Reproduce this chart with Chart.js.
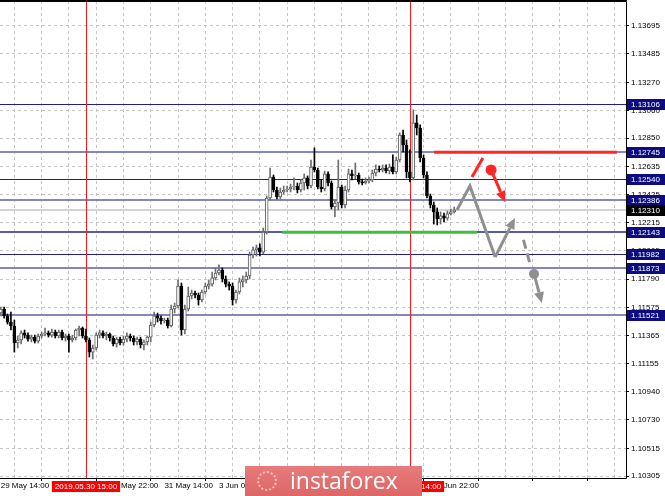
<!DOCTYPE html>
<html>
<head>
<meta charset="utf-8">
<script src="https://cdn.jsdelivr.net/npm/chart.js@4.4.1/dist/chart.umd.min.js"></script>
<style>
  html, body { margin: 0; padding: 0; background: #fff; }
  #wrap { position: relative; width: 665px; height: 496px; overflow: hidden; }
  #wm {
    position: absolute; left: 245px; top: 466px; width: 177px; height: 30px;
    background: linear-gradient(#e77b7b, #dd6666);
    color: #fff; font-family: 'Open Sans', sans-serif; font-size: 23px; line-height: 28px;
  }
  #wm span { position: absolute; left: 45px; top: 0; }
  #wm i { position: absolute; left: 12px; top: 5px; width: 20px; height: 20px; border-radius: 50%;
    border: 2px dotted #f6c9c9; box-sizing: border-box; }
</style>
</head>
<body>
<div id="wrap">
  <canvas id="chart" width="665" height="496"></canvas>
  <div id="wm"><i></i><span>instaforex</span></div>
</div>
<script>
// EURUSD H1, one candle per hour from 29 May 14:00
const opens = [
  1.11534,1.11564,1.11512,1.11466,1.11436,1.11308,1.11331,1.11384,1.11368,1.11338,
  1.11353,1.11323,1.11361,1.11376,1.11384,1.11368,1.11391,1.11361,1.11391,1.11346,
  1.11361,1.11331,1.11346,1.11406,1.11421,1.11361,1.11331,1.11240,1.11271,1.11368,
  1.11384,1.11361,1.11376,1.11346,1.11301,1.11338,1.11308,1.11338,1.11361,1.11346,
  1.11316,1.11338,1.11293,1.11316,1.11353,1.11444,1.11512,1.11496,1.11474,1.11481,
  1.11436,1.11564,1.11587,1.11737,1.11406,1.11564,1.11662,1.11685,1.11670,1.11632,
  1.11692,1.11737,1.11752,1.11798,1.11835,1.11858,1.11790,1.11752,1.11737,1.11632,
  1.11692,1.11768,1.11783,1.11813,1.11971,1.12009,1.12024,1.11993,1.12144,1.12400,
  1.12558,1.12460,1.12408,1.12445,1.12460,1.12468,1.12483,1.12490,1.12460,1.12513,
  1.12551,1.12490,1.12633,1.12611,1.12483,1.12468,1.12581,1.12513,1.12332,1.12362,
  1.12483,1.12347,1.12460,1.12581,1.12566,1.12573,1.12521,1.12513,1.12528,1.12536,
  1.12588,1.12618,1.12611,1.12626,1.12603,1.12633,1.12596,1.12686,1.12874,1.12799,
  1.12596,1.12551,1.12965,1.12927,1.12701,1.12573,1.12415,1.12347,1.12295,1.12242,
  1.12265,1.12249,1.12280,1.12295
];
const highs = [
  1.11579,1.11579,1.11527,1.11542,1.11481,1.11361,1.11399,1.11406,1.11384,1.11368,
  1.11368,1.11376,1.11391,1.11421,1.11399,1.11414,1.11406,1.11406,1.11406,1.11376,
  1.11376,1.11368,1.11414,1.11436,1.11429,1.11414,1.11346,1.11293,1.11384,1.11406,
  1.11399,1.11391,1.11384,1.11361,1.11353,1.11353,1.11361,1.11384,1.11376,1.11361,
  1.11353,1.11353,1.11331,1.11361,1.11466,1.11542,1.11534,1.11512,1.11496,1.11496,
  1.11594,1.11609,1.11783,1.11760,1.11594,1.11730,1.11707,1.11700,1.11685,1.11707,
  1.11760,1.11783,1.11843,1.11873,1.11896,1.11873,1.11813,1.11768,1.11760,1.11707,
  1.11798,1.11813,1.11843,1.11993,1.12031,1.12046,1.12054,1.12174,1.12415,1.12626,
  1.12573,1.12483,1.12475,1.12490,1.12490,1.12505,1.12551,1.12513,1.12536,1.12581,
  1.12566,1.12686,1.12777,1.12626,1.12536,1.12603,1.12596,1.12528,1.12385,1.12686,
  1.12498,1.12490,1.12618,1.12611,1.12664,1.12588,1.12543,1.12551,1.12558,1.12611,
  1.12649,1.12641,1.12649,1.12649,1.12656,1.12724,1.12709,1.12890,1.12912,1.12837,
  1.12762,1.13063,1.13025,1.12950,1.12724,1.12596,1.12430,1.12370,1.12325,1.12295,
  1.12287,1.12302,1.12317,1.12332
];
const lows = [
  1.11512,1.11496,1.11451,1.11406,1.11240,1.11271,1.11301,1.11346,1.11323,1.11316,
  1.11308,1.11308,1.11346,1.11361,1.11353,1.11353,1.11346,1.11346,1.11331,1.11323,
  1.11240,1.11316,1.11331,1.11361,1.11346,1.11316,1.11203,1.11188,1.11256,1.11346,
  1.11346,1.11331,1.11323,1.11286,1.11278,1.11293,1.11293,1.11316,1.11323,1.11293,
  1.11293,1.11271,1.11256,1.11293,1.11316,1.11429,1.11466,1.11451,1.11459,1.11421,
  1.11429,1.11534,1.11572,1.11368,1.11376,1.11549,1.11640,1.11647,1.11594,1.11617,
  1.11677,1.11715,1.11737,1.11783,1.11820,1.11768,1.11730,1.11707,1.11594,1.11609,
  1.11677,1.11730,1.11760,1.11790,1.11948,1.11963,1.11963,1.11978,1.12129,1.12385,
  1.12445,1.12393,1.12393,1.12430,1.12445,1.12445,1.12460,1.12438,1.12445,1.12460,
  1.12468,1.12475,1.12596,1.12468,1.12445,1.12453,1.12490,1.12317,1.12257,1.12310,
  1.12325,1.12325,1.12445,1.12536,1.12543,1.12505,1.12498,1.12505,1.12513,1.12521,
  1.12566,1.12596,1.12596,1.12588,1.12581,1.12581,1.12581,1.12671,1.12746,1.12551,
  1.12521,1.12536,1.12874,1.12671,1.12551,1.12400,1.12325,1.12204,1.12197,1.12204,
  1.12219,1.12234,1.12272,1.12287
];
const closes = [
  1.11564,1.11512,1.11466,1.11436,1.11308,1.11331,1.11384,1.11368,1.11338,1.11353,
  1.11323,1.11361,1.11376,1.11384,1.11368,1.11391,1.11361,1.11391,1.11346,1.11361,
  1.11331,1.11346,1.11406,1.11421,1.11361,1.11331,1.11240,1.11271,1.11368,1.11384,
  1.11361,1.11376,1.11346,1.11301,1.11338,1.11308,1.11338,1.11361,1.11346,1.11316,
  1.11338,1.11293,1.11316,1.11353,1.11444,1.11512,1.11496,1.11474,1.11481,1.11436,
  1.11564,1.11587,1.11737,1.11406,1.11564,1.11662,1.11685,1.11670,1.11632,1.11692,
  1.11737,1.11752,1.11798,1.11835,1.11858,1.11790,1.11752,1.11737,1.11632,1.11692,
  1.11768,1.11783,1.11813,1.11971,1.12009,1.12024,1.11993,1.12144,1.12400,1.12558,
  1.12460,1.12408,1.12445,1.12460,1.12468,1.12483,1.12490,1.12460,1.12513,1.12551,
  1.12490,1.12633,1.12611,1.12483,1.12468,1.12581,1.12513,1.12332,1.12362,1.12483,
  1.12347,1.12460,1.12581,1.12566,1.12573,1.12521,1.12513,1.12528,1.12536,1.12588,
  1.12618,1.12611,1.12626,1.12603,1.12633,1.12596,1.12686,1.12874,1.12799,1.12596,
  1.12551,1.12965,1.12927,1.12701,1.12573,1.12415,1.12347,1.12295,1.12242,1.12265,
  1.12249,1.12280,1.12295,1.12310
];

const priceTicks = [1.13695,1.13485,1.13270,1.13060,1.12850,1.12635,1.12425,1.12215,1.12005,
  1.11790,1.11575,1.11365,1.11155,1.10940,1.10730,1.10515,1.10305];
const timeLabels = ['29 May 14:00','30 May 06:00','30 May 22:00','31 May 14:00','3 Jun 06:00',
  '3 Jun 22:00','4 Jun 14:00','5 Jun 06:00','5 Jun 22:00'];

const darkLevels = [1.13106, 1.12540, 1.11982];
const lightLevels = [1.12745, 1.12386, 1.11873, 1.11521];
const midLevels = [1.12143];
const lastPrice = 1.12310;

const markerBars = [25, 120];
const markerTimes = ['2019.05.30 15:00', '2019.06.05 14:00'];

// drawn forecast (bar index, price)
const redLevel = [[127.1, 1.12745], [180.7, 1.12745]];
const greenLevel = [[82.5, 1.12143], [139.7, 1.12143]];
const grayPath = [[133.8, 1.12310], [137.6, 1.12490], [145.0, 1.11956], [150.8, 1.12249]];
const grayDash = [[153.3, 1.12084], [155.3, 1.11896]];
const grayDrop = [[156.4, 1.11828], [158.7, 1.11609]];
const redStroke = [[138.2, 1.12558], [141.4, 1.12701]];
const redDrop = [[143.8, 1.12611], [147.9, 1.12370]];

const idx = opens.map((_, i) => i);
const isBull = idx.map(i => closes[i] >= opens[i]);

function arrow(ctx, x1, y1, x2, y2, color, w) {
  const a = Math.atan2(y2 - y1, x2 - x1);
  const hl = 11, hw = 5;
  const bx = x2 - hl * Math.cos(a), by = y2 - hl * Math.sin(a);
  ctx.strokeStyle = color; ctx.lineWidth = w;
  ctx.beginPath(); ctx.moveTo(x1, y1); ctx.lineTo(bx, by); ctx.stroke();
  ctx.fillStyle = color;
  ctx.beginPath();
  ctx.moveTo(x2, y2);
  ctx.lineTo(bx + hw * Math.sin(a), by - hw * Math.cos(a));
  ctx.lineTo(bx - hw * Math.sin(a), by + hw * Math.cos(a));
  ctx.closePath(); ctx.fill();
}

const overlay = {
  id: 'overlay',
  beforeDatasetsDraw(chart) {
    const {ctx, chartArea: a, scales: {x, y}} = chart;
    ctx.save();
    const hline = (p, color, w) => {
      const yy = Math.round(y.getPixelForValue(p)) + (w % 2 ? 0.5 : 0);
      ctx.strokeStyle = color; ctx.lineWidth = w;
      ctx.beginPath(); ctx.moveTo(a.left, yy); ctx.lineTo(a.right, yy); ctx.stroke();
    };
    hline(lastPrice, '#d4d4d4', 2);
    lightLevels.forEach(p => hline(p, '#8585c4', 2));
    midLevels.forEach(p => hline(p, '#5a5aa8', 2));
    darkLevels.forEach(p => hline(p, '#202086', 1));
    ctx.strokeStyle = '#ff1a1a'; ctx.lineWidth = 1;
    markerBars.forEach(b => {
      const xx = Math.round(x.getPixelForValue(b)) + 0.5;
      ctx.beginPath(); ctx.moveTo(xx, a.top); ctx.lineTo(xx, a.bottom); ctx.stroke();
    });
    ctx.restore();
  },
  afterDatasetsDraw(chart) {
    const {ctx, scales: {x, y}} = chart;
    const P = pt => [x.getPixelForValue(pt[0]), y.getPixelForValue(pt[1])];
    ctx.save();
    ctx.lineCap = 'butt';
    const seg = (pts, color, w) => {
      ctx.strokeStyle = color; ctx.lineWidth = w;
      ctx.beginPath();
      pts.forEach((pt, k) => { const [px, py] = P(pt); k ? ctx.lineTo(px, py) : ctx.moveTo(px, py); });
      ctx.stroke();
    };
    seg(greenLevel, '#3fbf3f', 3);
    seg(redLevel, '#ff2626', 3);
    // gray zig-zag with arrow at the end
    ctx.lineJoin = 'miter';
    seg(grayPath.slice(0, 3), '#8f8f8f', 3);
    let [ax, ay] = P(grayPath[2]); let [bx, by] = P(grayPath[3]);
    arrow(ctx, ax, ay, bx, by, '#8f8f8f', 3);
    ctx.setLineDash([9, 5]);
    seg(grayDash, '#8f8f8f', 3);
    ctx.setLineDash([]);
    [ax, ay] = P(grayDrop[0]); [bx, by] = P(grayDrop[1]);
    arrow(ctx, ax, ay, bx, by, '#8f8f8f', 3);
    ctx.fillStyle = '#8f8f8f';
    ctx.beginPath(); ctx.arc(ax, ay, 5, 0, Math.PI * 2); ctx.fill();
    // red stroke, dot and arrow
    seg(redStroke, '#ff2626', 3);
    [ax, ay] = P(redDrop[0]); [bx, by] = P(redDrop[1]);
    arrow(ctx, ax, ay, bx, by, '#ff2626', 3);
    ctx.fillStyle = '#ff2626';
    ctx.beginPath(); ctx.arc(ax, ay, 5.5, 0, Math.PI * 2); ctx.fill();
    ctx.restore();
  },
  afterDraw(chart) {
    const {ctx, chartArea: a, scales: {x, y}} = chart;
    ctx.save();
    // frame
    ctx.strokeStyle = '#000'; ctx.lineWidth = 1;
    ctx.beginPath();
    ctx.moveTo(0, a.top + 0.5); ctx.lineTo(a.right + 0.5, a.top + 0.5);
    ctx.lineTo(a.right + 0.5, a.bottom + 0.5); ctx.lineTo(0, a.bottom + 0.5);
    ctx.stroke();
    ctx.fillStyle = '#000';
    ctx.fillRect(0, 0, a.right + 1, 1);
    // price labels on the right scale
    ctx.font = '8px "Liberation Sans", Arial, sans-serif';
    ctx.textBaseline = 'middle'; ctx.textAlign = 'left';
    const tag = (p, bg) => {
      const yy = Math.round(y.getPixelForValue(p));
      ctx.fillStyle = bg;
      ctx.fillRect(a.right + 1, yy - 5, 38, 11);
      ctx.fillStyle = '#fff';
      ctx.fillText(p.toFixed(5), a.right + 5, yy + 0.5);
    };
    [...darkLevels, ...lightLevels, ...midLevels].forEach(p => tag(p, '#0c0c80'));
    tag(lastPrice, '#000');
    // time labels of the vertical lines
    ctx.textAlign = 'center';
    markerBars.forEach((b, k) => {
      const xx = Math.round(x.getPixelForValue(b));
      const w = ctx.measureText(markerTimes[k]).width + 6;
      ctx.fillStyle = '#ff0000';
      ctx.fillRect(xx - w / 2, a.bottom + 3, w, 11);
      ctx.fillStyle = '#fff';
      ctx.fillText(markerTimes[k], xx, a.bottom + 9);
    });
    ctx.restore();
  }
};

const axisFont = {family: '"Liberation Sans", Arial, sans-serif', size: 8};

new Chart(document.getElementById('chart'), {
  type: 'bar',
  data: {
    datasets: [{
      label: 'body',
      order: 0,
      grouped: false,
      data: idx.map(i => ({x: i, y: [opens[i], closes[i]]})),
      barThickness: 3,
      backgroundColor: idx.map(i => isBull[i] ? '#ffffff' : '#000000'),
      borderColor: idx.map(i => isBull[i] ? '#5a5a5a' : '#000000'),
      borderWidth: 1,
      borderSkipped: false
    }, {
      label: 'wick',
      order: 1,
      grouped: false,
      data: idx.map(i => ({x: i, y: [lows[i], highs[i]]})),
      barThickness: 1,
      backgroundColor: idx.map(i => isBull[i] ? '#6e6e6e' : '#000000'),
      borderWidth: 0
    }]
  },
  options: {
    responsive: false,
    animation: false,
    devicePixelRatio: 1,
    layout: {padding: {top: 1, left: 0, right: 0, bottom: 0}, autoPadding: false},
    plugins: {legend: {display: false}, tooltip: {enabled: false}},
    scales: {
      x: {
        type: 'linear',
        offset: false,
        min: -0.205,
        max: 183.37,
        afterBuildTicks: s => { s.ticks = []; for (let v = 0; v <= 176; v += 8) s.ticks.push({value: v}); },
        afterFit: s => { s.height = 18; s.paddingLeft = 0; s.paddingRight = 0; },
        border: {display: false, dash: [3, 3]},
        grid: {
          color: '#c4c4c4',
          borderDash: [3, 3],
          tickLength: 3,
          tickBorderDash: [],
          tickColor: c => (c.tick && c.tick.value % 16 === 0) ? '#000' : 'rgba(0,0,0,0)'
        },
        ticks: {
          autoSkip: false, maxRotation: 0, align: 'start', padding: 0, color: '#000', font: axisFont,
          callback: v => (v % 16 === 0 && timeLabels[v / 16]) ? timeLabels[v / 16] : ''
        }
      },
      y: {
        position: 'right',
        min: 1.10292,
        max: 1.13883,
        afterBuildTicks: s => { s.ticks = priceTicks.map(v => ({value: v})); },
        afterFit: s => { s.width = 39; s.paddingTop = 0; s.paddingBottom = 0; },
        border: {display: false, dash: [3, 3]},
        grid: {color: '#c4c4c4', borderDash: [3, 3], tickLength: 3, tickBorderDash: [], tickColor: '#000'},
        ticks: {padding: 2, color: '#000', font: axisFont, callback: v => v.toFixed(5)}
      }
    }
  },
  plugins: [overlay]
});
</script>
</body>
</html>
